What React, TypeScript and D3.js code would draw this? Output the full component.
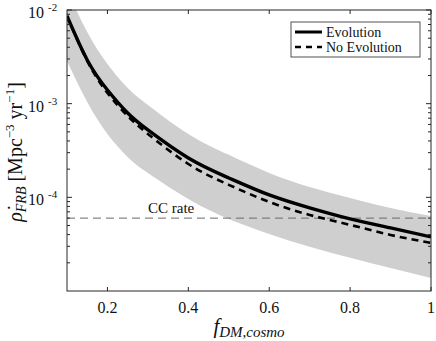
import React from 'react';
import { scaleLinear, scaleLog, line, area, curveNatural } from 'd3';

// f_DM,cosmo sample points
const fValues = [0.1, 0.15, 0.2, 0.25, 0.3, 0.4, 0.5, 0.6, 0.7, 0.8, 0.9, 1.0];
// rate with evolution (Mpc^-3 yr^-1)
const evolution = [8.63e-3, 2.93e-3, 1.4e-3, 7.96e-4, 5.24e-4, 2.63e-4, 1.61e-4, 1.06e-4, 7.71e-5, 5.88e-5, 4.71e-5, 3.78e-5];
// rate without evolution
const noEvolution = [8.63e-3, 2.86e-3, 1.3e-3, 7.39e-4, 4.75e-4, 2.27e-4, 1.36e-4, 8.93e-5, 6.49e-5, 5.08e-5, 3.97e-5, 3.26e-5];
// shaded uncertainty band
const bandUpper = [1.63e-2, 5.82e-3, 2.65e-3, 1.47e-3, 9.69e-4, 4.75e-4, 2.84e-4, 1.82e-4, 1.29e-4, 9.85e-5, 7.71e-5, 6.33e-5];
const bandLower = [2.86e-3, 1.04e-3, 4.75e-4, 2.7e-4, 1.82e-4, 9.61e-5, 5.88e-5, 4.07e-5, 2.96e-5, 2.26e-5, 1.76e-5, 1.38e-5];

const ccRate = 6e-5;
const xTicks = [0.2, 0.4, 0.6, 0.8, 1];
const xTickLabels = ['0.2', '0.4', '0.6', '0.8', '1'];
const yTicks = [1e-2, 1e-3, 1e-4];
const yTickExps = ['-2', '-3', '-4'];
const legendLabels = ['Evolution', 'No Evolution'];

const W = 436;
const H = 341;
const left = 67, right = 431, top = 10, bottom = 291;
const axisColor = '#262626';
const font = '"Liberation Serif", "Times New Roman", serif';

const App = () => {
  const x = scaleLinear().domain([0.1, 1]).range([left, right]);
  const y = scaleLog().domain([1e-5, 1e-2]).range([bottom, top]);

  const pts = (vals: number[]) => fValues.map((f, i) => [f, vals[i]] as [number, number]);
  const lineGen = line<[number, number]>()
    .x((d) => x(d[0]))
    .y((d) => y(d[1]))
    .curve(curveNatural);
  const bandGen = area<number>()
    .x((d, i) => x(fValues[i]))
    .y0((d, i) => y(bandLower[i]))
    .y1((d) => y(d))
    .curve(curveNatural);

  // log minor ticks
  const minor: number[] = [];
  for (let e = -5; e < -2; e++) {
    for (let k = 2; k < 10; k++) minor.push(k * Math.pow(10, e));
  }

  return (
    <svg width={W} height={H} style={{ position: 'absolute', left: 0, top: 0, background: '#fff' }} fontFamily={font}>
      <defs>
        <clipPath id="plot-clip">
          <rect x={left} y={top} width={right - left} height={bottom - top} />
        </clipPath>
      </defs>
      <rect x={0} y={0} width={W} height={H} fill="#fff" />

      <g clipPath="url(#plot-clip)">
        <path d={bandGen(bandUpper) || ''} fill="#cfcfcf" stroke="none" />
        <line x1={left} x2={right} y1={y(ccRate)} y2={y(ccRate)} stroke="#6a6a6a" strokeWidth={1} strokeDasharray="8,5" />
        <path d={lineGen(pts(noEvolution)) || ''} fill="none" stroke="#000" strokeWidth={2.6} strokeDasharray="7,5" />
        <path d={lineGen(pts(evolution)) || ''} fill="none" stroke="#000" strokeWidth={3.4} />
      </g>

      <text x={148} y={213} fontSize={15} fill="#111">CC rate</text>

      {/* axes box */}
      <rect x={left} y={top} width={right - left} height={bottom - top} fill="none" stroke={axisColor} strokeWidth={1} />

      {/* x ticks */}
      {xTicks.map((t, i) => (
        <g key={'xt' + t}>
          <line x1={x(t)} x2={x(t)} y1={bottom} y2={bottom - 4} stroke={axisColor} />
          <line x1={x(t)} x2={x(t)} y1={top} y2={top + 4} stroke={axisColor} />
          <text x={x(t)} y={313} fontSize={16} textAnchor="middle" fill="#111">{xTickLabels[i]}</text>
        </g>
      ))}

      {/* y ticks */}
      {yTicks.map((t, i) => (
        <g key={'yt' + t}>
          <line x1={left} x2={left + 5} y1={y(t)} y2={y(t)} stroke={axisColor} />
          <line x1={right} x2={right - 5} y1={y(t)} y2={y(t)} stroke={axisColor} />
          <text x={44} y={y(t) + 8} fontSize={16} textAnchor="end" fill="#111">10</text>
          <text x={48} y={y(t) + 1} fontSize={11} fill="#111">{yTickExps[i]}</text>
        </g>
      ))}
      {minor.map((t) => (
        <g key={'ym' + t}>
          <line x1={left} x2={left + 3} y1={y(t)} y2={y(t)} stroke={axisColor} />
          <line x1={right} x2={right - 3} y1={y(t)} y2={y(t)} stroke={axisColor} />
        </g>
      ))}

      {/* x label */}
      <text x={(left + right) / 2} y={333} fontSize={21} textAnchor="middle" fill="#111" fontStyle="italic">
        f<tspan fontSize={15} dy={4}>DM,cosmo</tspan>
      </text>

      {/* y label */}
      <text transform={`translate(22,152) rotate(-90)`} fontSize={20} textAnchor="middle" fill="#111">
        <tspan fontStyle="italic">{'\u03C1\u0307'}</tspan>
        <tspan fontStyle="italic" fontSize={14} dy={4}>FRB</tspan>
        <tspan dy={-4}>{'  [Mpc'}</tspan>
        <tspan fontSize={13} dy={-8}>{'\u22123'}</tspan>
        <tspan dy={8}>{' yr'}</tspan>
        <tspan fontSize={13} dy={-8}>{'\u22121'}</tspan>
        <tspan dy={8}>]</tspan>
      </text>

      {/* legend */}
      <rect x={291} y={22} width={129} height={35} fill="#fff" stroke={axisColor} strokeWidth={0.8} />
      <line x1={295} x2={322} y1={32} y2={32} stroke="#000" strokeWidth={3} />
      <line x1={295} x2={322} y1={47} y2={47} stroke="#000" strokeWidth={2.4} strokeDasharray="6,5" />
      <text x={326} y={37} fontSize={14} fill="#111">{legendLabels[0]}</text>
      <text x={326} y={52} fontSize={14} fill="#111">{legendLabels[1]}</text>
    </svg>
  );
};

export default App;
